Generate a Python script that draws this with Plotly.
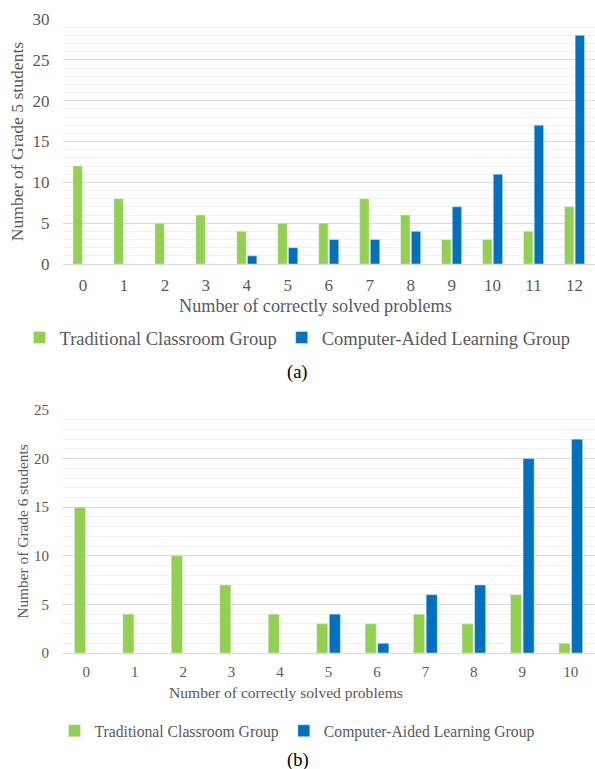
import plotly.graph_objects as go

# Data
cats_a = ["0", "1", "2", "3", "4", "5", "6", "7", "8", "9", "10", "11", "12"]
trad_a = [12, 8, 5, 6, 4, 5, 5, 8, 6, 3, 3, 4, 7]
comp_a = [0, 0, 0, 0, 1, 2, 3, 3, 4, 7, 11, 17, 28]

cats_b = ["0", "1", "2", "3", "4", "5", "6", "7", "8", "9", "10"]
trad_b = [15, 4, 10, 7, 4, 3, 3, 4, 3, 6, 1]
comp_b = [0, 0, 0, 0, 0, 4, 1, 6, 7, 20, 22]

name_t = "Traditional Classroom Group"
name_c = "Computer-Aided Learning Group"
x_title = "Number of correctly solved problems"
GREEN = "#92D050"
BLUE = "#0070C0"
GRAY = "#595959"
FONT = "Liberation Serif, Times New Roman, serif"

fig = go.Figure()
fig.add_trace(go.Bar(x=cats_a, y=trad_a, name=name_t, marker_color=GREEN,
                     xaxis="x", yaxis="y", legend="legend"))
fig.add_trace(go.Bar(x=cats_a, y=comp_a, name=name_c, marker_color=BLUE,
                     xaxis="x", yaxis="y", legend="legend"))
fig.add_trace(go.Bar(x=cats_b, y=trad_b, name=name_t, marker_color=GREEN,
                     xaxis="x2", yaxis="y2", legend="legend2"))
fig.add_trace(go.Bar(x=cats_b, y=comp_b, name=name_c, marker_color=BLUE,
                     xaxis="x2", yaxis="y2", legend="legend2"))

H = 769.0
W = 595.0

def yd(top, bot):
    return [1 - bot / H, 1 - top / H]

def f(size, color=GRAY):
    return dict(family=FONT, size=size, color=color)

def yax(dom, rng, size, tsize, title, standoff):
    return dict(domain=dom, range=rng, dtick=5, automargin=False,
                showline=False, zeroline=False, ticks="", gridcolor="#D9D9D9",
                gridwidth=1, tickfont=f(size), ticklabelstandoff=12,
                minor=dict(dtick=1, showgrid=True, gridcolor="#F0F0F0", gridwidth=1),
                title=dict(text=title, font=f(tsize), standoff=standoff))

def xax(dom, size, standoff):
    return dict(domain=dom, automargin=False, showline=True, linecolor="#D9D9D9",
                linewidth=1, ticks="", tickfont=f(size), showgrid=False,
                ticklabelstandoff=standoff)

def ann(text, x, y, size, color=GRAY):
    return dict(text=text, x=x / W, y=1 - y / H, xref="paper", yref="paper",
                xanchor="center", yanchor="middle", showarrow=False, font=f(size, color))

fig.update_layout(
    width=595, height=769,
    margin=dict(l=0, r=0, t=0, b=0, autoexpand=False),
    paper_bgcolor="white", plot_bgcolor="white",
    barmode="group", bargap=0.48, bargroupgap=0.12,
    showlegend=True,
    xaxis=dict(anchor="y", **xax([62.5 / W, 1.0], 17, 6)),
    yaxis=dict(anchor="x", **yax(yd(19, 264), [0, 30], 17, 17.6,
                                 "Number of Grade 5 students", 4)),
    xaxis2=dict(anchor="y2", **xax([62 / W, 1.0], 15, 5)),
    yaxis2=dict(anchor="x2", **yax(yd(410, 653), [0, 25], 15, 15.4,
                                   "Number of Grade 6 students", 1)),
    legend=dict(orientation="h", x=0.5, xanchor="center", y=1 - 338 / H, yanchor="middle",
                font=f(18.5), itemwidth=30, traceorder="normal", bgcolor="rgba(0,0,0,0)"),
    legend2=dict(orientation="h", x=0.5, xanchor="center", y=1 - 731 / H, yanchor="middle",
                 font=f(15.7), itemwidth=30, traceorder="normal", bgcolor="rgba(0,0,0,0)"),
    annotations=[
        ann(x_title, 315, 306, 18.2),
        ann(x_title, 285.5, 692, 15.6),
        ann("(a)", 297.5, 372, 18.5, "black"),
        ann("(b)", 297.5, 760, 18.5, "black"),
    ],
)

fig.write_html("out.html", config={"displayModeBar": False},
               post_script="document.body.style.margin='0';document.body.style.overflow='hidden';")
